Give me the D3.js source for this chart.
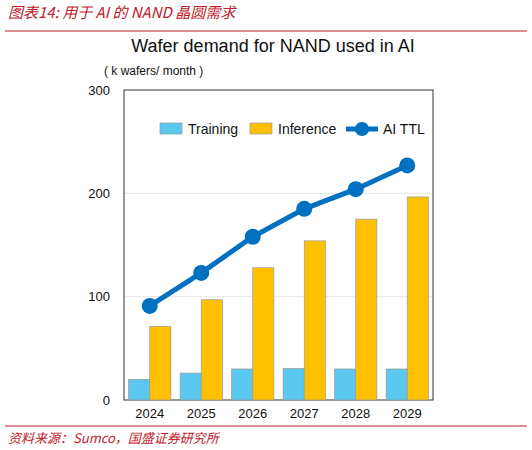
<!DOCTYPE html>
<html><head><meta charset="utf-8">
<script src="https://cdn.jsdelivr.net/npm/d3@7"></script>
<style>body{margin:0;background:#fff}</style></head>
<body><svg id="c" width="532" height="450"></svg>
<script>
const years=["2024","2025","2026","2027","2028","2029"];
const training=[20,26,30,30.5,30,30];
const inference=[71,97,128,154,175,196.5];
const aiTTL=[91,123,158,185,204,227];
const yTicks=[0,100,200,300];

const svg=d3.select("#c");
const L=124,R=433,T=90,B=400;
const x=d3.scaleBand().domain(years).range([L,R]).paddingInner(0.18).paddingOuter(0.09);
const y=d3.scaleLinear().domain([0,300]).range([B,T]);
const sub=d3.scaleBand().domain(["t","i"]).range([0,x.bandwidth()]);

svg.append("text").attr("x",8).attr("y",18).attr("fill","#c0202a").attr("font-size",15).attr("font-style","italic")
 .attr("font-family","Noto Sans CJK SC").text("图表14:  用于 AI 的 NAND 晶圆需求");
svg.append("line").attr("x1",5).attr("x2",527).attr("y1",31).attr("y2",31).attr("stroke","#c0202a").attr("stroke-width",1.2);
svg.append("line").attr("x1",5).attr("x2",527).attr("y1",426).attr("y2",426).attr("stroke","#c0202a").attr("stroke-width",1.2);
svg.append("text").attr("x",8).attr("y",443).attr("fill","#c0202a").attr("font-size",13).attr("font-style","italic")
 .attr("font-family","Noto Sans CJK SC").text("资料来源：Sumco，国盛证券研究所");

svg.append("text").attr("x",273).attr("y",52).attr("text-anchor","middle").attr("font-size",18)
 .attr("font-family","Liberation Sans").attr("fill","#111").text("Wafer demand for NAND used in AI");
svg.append("text").attr("x",104).attr("y",75).attr("font-size",12).attr("font-family","Liberation Sans").attr("fill","#111").text("( k wafers/ month )");

svg.append("g").selectAll("line").data(yTicks.slice(1,3)).join("line")
 .attr("x1",L).attr("x2",R).attr("y1",d=>y(d)).attr("y2",d=>y(d)).attr("stroke","#e6e6e6");
svg.append("rect").attr("x",L).attr("y",T).attr("width",R-L).attr("height",B-T).attr("fill","none").attr("stroke","#333").attr("stroke-width",1);

const ya=svg.append("g").attr("transform",`translate(${L},0)`).call(d3.axisLeft(y).tickValues(yTicks).tickSize(0).tickPadding(14));
ya.select(".domain").remove();
ya.selectAll("text").attr("font-size",13).attr("font-family","Liberation Sans").attr("fill","#111");
const xa=svg.append("g").attr("transform",`translate(0,${B})`).call(d3.axisBottom(x).tickSize(0).tickPadding(9));
xa.select(".domain").remove();
xa.selectAll("text").attr("font-size",13).attr("font-family","Liberation Sans").attr("fill","#111");

svg.append("g").selectAll("rect").data(years).join("rect")
 .attr("x",d=>x(d)+sub("t")).attr("width",sub.bandwidth()).attr("y",(d,i)=>y(training[i])).attr("height",(d,i)=>B-y(training[i]))
 .attr("fill","#5bc8f0").attr("stroke","#999").attr("stroke-width",0.7);
svg.append("g").selectAll("rect").data(years).join("rect")
 .attr("x",d=>x(d)+sub("i")).attr("width",sub.bandwidth()).attr("y",(d,i)=>y(inference[i])).attr("height",(d,i)=>B-y(inference[i]))
 .attr("fill","#ffc000").attr("stroke","#999").attr("stroke-width",0.7);

const cx=d=>x(d)+x.bandwidth()/2;
svg.append("path").datum(years).attr("fill","none").attr("stroke","#0070c0").attr("stroke-width",5)
 .attr("d",d3.line().x(cx).y((d,i)=>y(aiTTL[i])));
svg.append("g").selectAll("circle").data(years).join("circle")
 .attr("cx",cx).attr("cy",(d,i)=>y(aiTTL[i])).attr("r",8).attr("fill","#0070c0");

const lg=svg.append("g").attr("font-size",14).attr("font-family","Liberation Sans").attr("fill","#111");
lg.append("rect").attr("x",160).attr("y",123).attr("width",22).attr("height",11).attr("fill","#5bc8f0").attr("stroke","#999").attr("stroke-width",0.7);
lg.append("text").attr("x",188).attr("y",134).text("Training");
lg.append("rect").attr("x",250).attr("y",123).attr("width",22).attr("height",11).attr("fill","#ffc000").attr("stroke","#999").attr("stroke-width",0.7);
lg.append("text").attr("x",278).attr("y",134).text("Inference");
lg.append("line").attr("x1",346).attr("x2",378).attr("y1",129).attr("y2",129).attr("stroke","#0070c0").attr("stroke-width",5);
lg.append("circle").attr("cx",362).attr("cy",129).attr("r",7).attr("fill","#0070c0");
lg.append("text").attr("x",383).attr("y",134).text("AI TTL");
</script></body></html>
